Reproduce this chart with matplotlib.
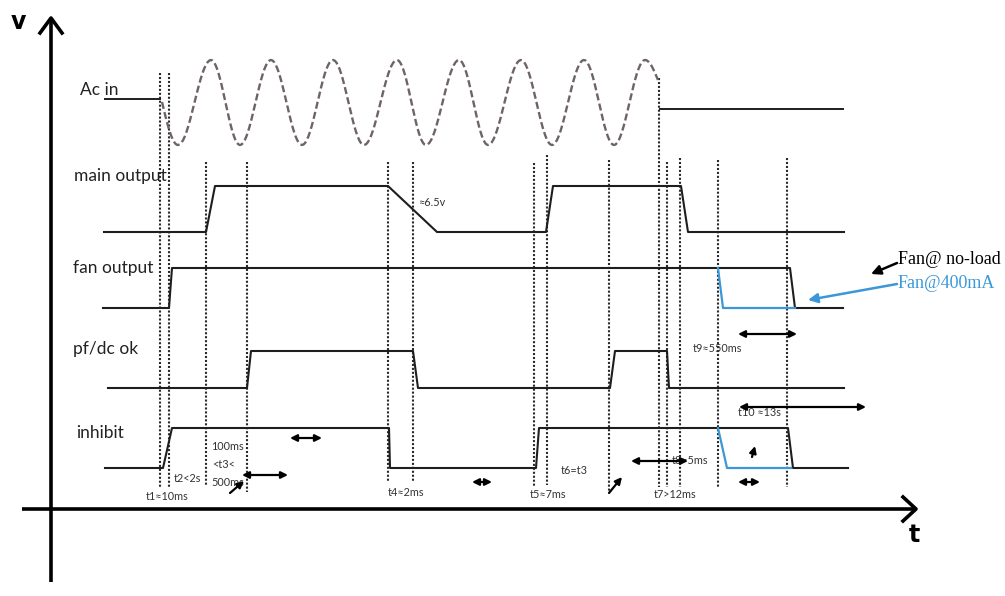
import numpy as np
import matplotlib.pyplot as plt

plt.rcParams['font.family'] = ['Lato', 'DejaVu Sans']

# ---- waveform corner points (x, y in picture units, y grows downward) ----
ac_left_x = [105, 160]
ac_left_y = [99, 99]
ac_right_x = [660, 843]
ac_right_y = [109, 109]
# turning points of the ac sine (start, troughs/peaks, end)
ac_turn_x = [162, 178, 211, 240, 271, 302, 333, 364, 397, 426, 459, 488, 521, 552, 584, 614, 645, 658]
ac_turn_y = [102, 145, 60, 145, 60, 145, 60, 145, 60, 145, 60, 145, 60, 145, 60, 145, 60, 80]

main_x = [104, 206, 215, 388, 437, 546, 553, 681, 688, 844]
main_y = [232, 232, 186, 186, 232, 232, 186, 186, 232, 232]

fan_x = [103, 169, 172, 790, 795, 843]
fan_y = [308, 308, 268, 268, 308, 308]
fan_blue_x = [718, 723, 795]
fan_blue_y = [268, 308, 308]

pf_x = [108, 247, 251, 413, 418, 610, 615, 667, 669, 844]
pf_y = [388, 388, 351, 351, 388, 388, 351, 351, 388, 388]

inh_x = [105, 163, 172, 389, 390, 536, 539, 788, 793, 848]
inh_y = [468, 468, 428, 428, 468, 468, 428, 428, 468, 468]
inh_blue_x = [718, 727, 791]
inh_blue_y = [428, 468, 468]

# dotted timing markers: x, top, bottom
mark_x = [160, 169, 206, 247, 388, 413, 534, 547, 609, 659, 667, 680, 718, 787]
mark_top = [73, 73, 162, 162, 162, 162, 163, 155, 160, 78, 162, 158, 160, 158]
mark_bot = [488, 488, 485, 492, 482, 482, 487, 485, 492, 487, 487, 487, 488, 487]

signal_names = ["Ac in", "main output", "fan output", "pf/dc ok", "inhibit"]
signal_name_x = [80, 74, 73, 73, 76]
signal_name_y = [90, 176, 268, 349, 433]

# small timing notes
note_text = ["t1\u224810ms", "t2<2s", "100ms", "<t3<", "500ms", "t4\u22482ms", "t5\u22487ms",
             "t6=t3", "t7>12ms", "t8\u22485ms", "t9\u2248550ms", "t10 \u224813s", "\u22486.5v"]
note_x = [146, 174, 211, 212, 211, 388, 530, 561, 654, 672, 693, 738, 418]
note_y = [497, 478, 447, 465, 483, 493, 495, 471, 495, 461, 349, 413, 202]

# double-headed span arrows: x0, x1, y
span_x0 = [290, 242, 472, 631, 738, 738, 739]
span_x1 = [322, 288, 492, 688, 760, 797, 866]
span_y = [438, 475, 482, 461, 482, 334, 407]

# single pointer arrows: from -> to
ptr_from = [(230, 493), (609, 493), (752, 457)]
ptr_to = [(244, 481), (622, 477), (755, 446)]


def ac_wave(xs, ys):
    px, py = [], []
    n = len(xs) - 1
    for i in range(n):
        t = np.linspace(0, 1, 20)
        if i == 0:
            s = np.sin(np.pi * t / 2)
        elif i == n - 1:
            s = 1 - np.cos(np.pi * t / 2)
        else:
            s = (1 - np.cos(np.pi * t)) / 2
        px.extend(xs[i] + (xs[i + 1] - xs[i]) * t)
        py.extend(ys[i] + (ys[i + 1] - ys[i]) * s)
    return px, py


fig = plt.figure(figsize=(10.05, 5.96), dpi=100)
ax = fig.add_axes([0, 0, 1, 1])
ax.set_xlim(0, 1005)
ax.set_ylim(596, 0)
ax.axis('off')

ink = '#1e1e1e'
blue = '#3a98d8'

# axes
ax.plot([51, 51], [19, 582], color='black', lw=2.6, solid_capstyle='butt')
ax.plot([22, 915], [509, 509], color='black', lw=2.6, solid_capstyle='butt')
ax.plot([40, 51, 62], [33, 18, 33], color='black', lw=2.6)
ax.plot([903, 916, 903], [497, 509, 521], color='black', lw=2.6)
ax.text(18, 22, "v", fontsize=17, fontweight='bold', ha='center', va='center', family='DejaVu Sans')
ax.text(914, 535, "t", fontsize=17, fontweight='bold', ha='center', va='center', family='DejaVu Sans')

# dotted markers
for x, y0, y1 in zip(mark_x, mark_top, mark_bot):
    ax.plot([x, x], [y0, y1], color='#2a2a2a', lw=1.5, linestyle=(0, (1, 0.9)))

# ac input
wx, wy = ac_wave(ac_turn_x, ac_turn_y)
ax.plot(wx, wy, color='#6e6464', lw=1.7, linestyle=(0, (3, 1.4)))
ax.plot(ac_left_x, ac_left_y, color=ink, lw=1.4)
ax.plot(ac_right_x, ac_right_y, color=ink, lw=1.4)

# digital signals
for xs, ys in [(main_x, main_y), (fan_x, fan_y), (pf_x, pf_y), (inh_x, inh_y)]:
    ax.plot(xs, ys, color=ink, lw=1.5)
ax.plot(fan_blue_x, fan_blue_y, color=blue, lw=1.6)
ax.plot(inh_blue_x, inh_blue_y, color=blue, lw=1.6)

for name, x, y in zip(signal_names, signal_name_x, signal_name_y):
    ax.text(x, y, name, fontsize=12.5, color='#222222', ha='left', va='center')

for s, x, y in zip(note_text, note_x, note_y):
    ax.text(x, y, s, fontsize=7.8, color='#333333', ha='left', va='center')

for x0, x1, y in zip(span_x0, span_x1, span_y):
    ax.annotate('', xy=(x1, y), xytext=(x0, y),
                arrowprops=dict(arrowstyle='<|-|>', color='black', lw=1.6,
                                mutation_scale=10, shrinkA=0, shrinkB=0))

for p0, p1 in zip(ptr_from, ptr_to):
    ax.annotate('', xy=p1, xytext=p0,
                arrowprops=dict(arrowstyle='-|>', color='black', lw=1.6,
                                mutation_scale=10, shrinkA=0, shrinkB=0))

# legend-style callouts for the fan
ax.annotate('', xy=(871, 274), xytext=(897, 263),
            arrowprops=dict(arrowstyle='-|>', color='black', lw=1.8,
                            mutation_scale=14, shrinkA=0, shrinkB=0))
ax.annotate('', xy=(808, 300), xytext=(897, 284),
            arrowprops=dict(arrowstyle='-|>', color=blue, lw=1.8,
                            mutation_scale=14, shrinkA=0, shrinkB=0))
ax.text(898, 259, "Fan@ no-load", fontsize=13, color='black', family='Liberation Serif',
        ha='left', va='center')
ax.text(898, 284, "Fan@400mA", fontsize=13, color=blue, family='Liberation Serif',
        ha='left', va='center')

fig.savefig("out.png", dpi=100)
